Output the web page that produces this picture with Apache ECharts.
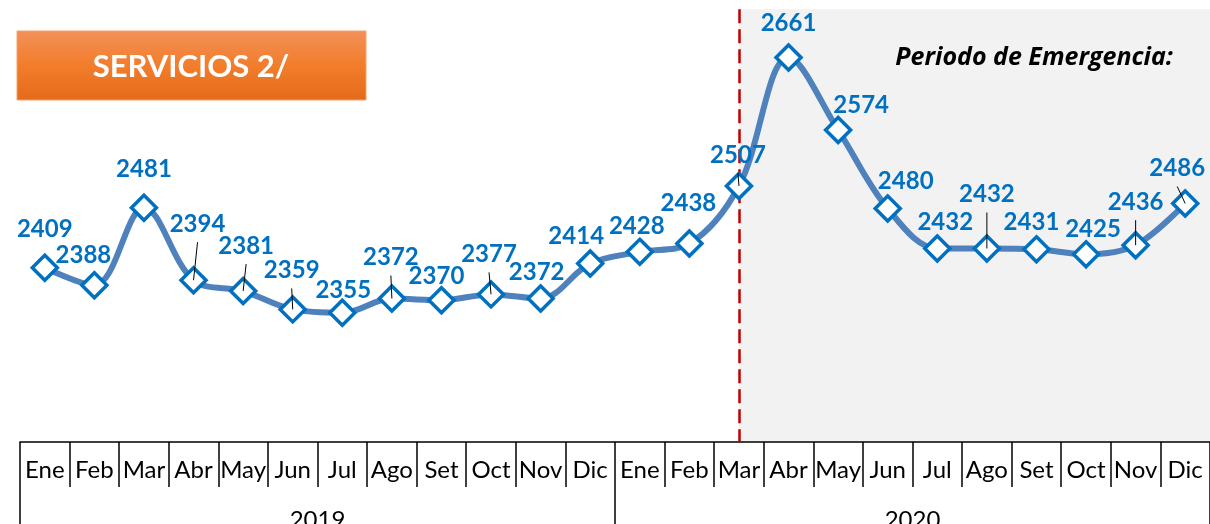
<!DOCTYPE html>
<html>
<head>
<meta charset="utf-8">
<script src="https://cdn.jsdelivr.net/npm/echarts@6/dist/echarts.min.js"></script>
<style>
  html, body { margin: 0; padding: 0; background: #fff; }
  #main { width: 1210px; height: 524px; }
</style>
</head>
<body>
<div id="main"></div>
<script>
// data
const meses = ['Ene', 'Feb', 'Mar', 'Abr', 'May', 'Jun', 'Jul', 'Ago', 'Set', 'Oct', 'Nov', 'Dic'];
const anios = ['2019', '2020'];
const servicios2019 = [2409, 2388, 2481, 2394, 2381, 2359, 2355, 2372, 2370, 2377, 2372, 2414];
const servicios2020 = [2428, 2438, 2507, 2661, 2574, 2480, 2432, 2432, 2431, 2425, 2436, 2486];

// label placement (px from the marker centre) and which ones get a leader line
const labelOffsets = [
  [0, -38], [-11, -30], [0, -38], [4, -56], [3, -45], [-1, -39],
  [1, -22], [-1, -41], [-5, -24], [-2, -40], [-4, -26], [-14, -27],
  [-3, -26], [-1, -40], [-1, -31], [0, -34], [23, -25], [18, -27],
  [8, -26], [0, -54], [-5, -27], [7, -25], [0, -43], [-8, -35]
];
const leaderIdx = [3, 4, 5, 7, 9, 14, 19, 22, 23];
const inicioEmergencia = 14;   // Mar 2020
const yTopEmergencia = 2719;

const categorias = [];
anios.forEach(a => meses.forEach(m => categorias.push(m)));
const valores = servicios2019.concat(servicios2020);

const azul = '#0070C0';
const font = 'Lato, "Open Sans", sans-serif';

const chart = echarts.init(document.getElementById('main'), null, { renderer: 'canvas' });

const option = {
  animation: false,
  backgroundColor: '#fff',
  grid: { left: 20, right: 0, top: 0, bottom: 82, containLabel: false, outerBoundsMode: 'none' },
  xAxis: [
    {
      type: 'category',
      data: categorias,
      position: 'bottom',
      boundaryGap: true,
      axisLine: { show: true, lineStyle: { color: '#000', width: 1.5 } },
      axisTick: { show: true, interval: 0, length: 45, lineStyle: { color: '#000', width: 1.5 } },
      axisLabel: { interval: 0, margin: 16, fontSize: 24, color: '#000', fontFamily: font },
      splitLine: { show: false }
    },
    {
      type: 'category',
      data: anios,
      position: 'bottom',
      boundaryGap: true,
      axisLine: { show: false },
      axisTick: { show: true, interval: 0, length: 82, lineStyle: { color: '#000', width: 1.5 } },
      axisLabel: { interval: 0, margin: 66, fontSize: 24, color: '#000', fontFamily: font },
      splitLine: { show: false }
    }
  ],
  yAxis: {
    type: 'value',
    min: 2200,
    max: 2730,
    show: false,
    splitLine: { show: false }
  },
  series: [
    {
      type: 'line',
      xAxisIndex: 0,
      smooth: 0.35,
      z: 5,
      data: valores.map((v, i) => ({
        value: v,
        label: { offset: labelOffsets[i] }
      })),
      lineStyle: { color: '#4F81BD', width: 6 },
      symbol: 'diamond',
      symbolSize: 25,
      itemStyle: { color: '#fff', borderColor: azul, borderWidth: 3.5 },
      label: {
        show: true,
        position: 'inside',
        align: 'center',
        verticalAlign: 'middle',
        color: azul,
        fontSize: 24,
        fontWeight: 'bold',
        fontFamily: font
      },
      markLine: {
        silent: true,
        symbol: 'none',
        label: { show: false },
        lineStyle: { color: '#C00000', type: [14, 6], width: 2.5 },
        data: [[
          { coord: [inicioEmergencia, yTopEmergencia] },
          { coord: [inicioEmergencia, 2200] }
        ]]
      }
    }
  ]
};

chart.setOption(option);

// extra shapes positioned through the chart's own scales
const px = (i, v) => chart.convertToPixel({ seriesIndex: 0 }, [i, v]);
const areaTop = px(inicioEmergencia, yTopEmergencia);
const areaBottom = px(inicioEmergencia, 2200);

const graphics = [
  {
    type: 'rect',
    z: -10,
    silent: true,
    shape: { x: areaTop[0], y: areaTop[1], width: 1210 - areaTop[0], height: areaBottom[1] - areaTop[1] },
    style: { fill: '#F2F2F2' }
  },
  {
    type: 'rect',
    z: 20,
    shape: { x: 17, y: 31, width: 349, height: 69 },
    style: {
      fill: new echarts.graphic.LinearGradient(0, 0, 0, 1, [
        { offset: 0, color: '#F2915A' },
        { offset: 0.5, color: '#F27D2B' },
        { offset: 1, color: '#E46A18' }
      ]),
      stroke: '#F5A26E',
      lineWidth: 1
    }
  },
  {
    type: 'text',
    z: 21,
    x: 191,
    y: 67,
    style: {
      text: 'SERVICIOS 2/',
      fill: '#fff',
      font: 'bold 31px ' + font,
      align: 'center',
      verticalAlign: 'middle'
    }
  },
  {
    type: 'text',
    z: 21,
    x: 1173,
    y: 58,
    style: {
      text: 'Periodo de Emergencia:',
      fill: '#000',
      font: 'italic bold 25px "Open Sans", sans-serif',
      align: 'right',
      verticalAlign: 'middle'
    }
  }
];

leaderIdx.forEach(i => {
  const p = px(i, valores[i]);
  const o = labelOffsets[i];
  graphics.push({
    type: 'line',
    z: 30,
    silent: true,
    shape: { x1: p[0] + o[0], y1: p[1] + o[1] + 18, x2: p[0], y2: p[1] },
    style: { stroke: '#000', lineWidth: 1 }
  });
});

chart.setOption({ graphic: graphics });
</script>
</body>
</html>
